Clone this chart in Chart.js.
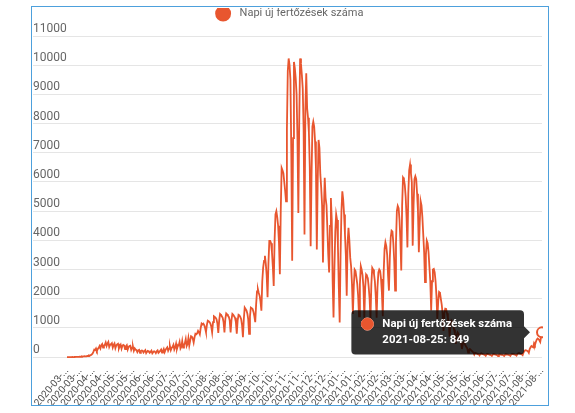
<!DOCTYPE html>
<html lang="hu">
<head>
<meta charset="UTF-8">
<title>Napi új fertőzések száma</title>
<style>
  body { margin: 0; background: #fff; }
  #doboz { position: absolute; left: 31px; top: 6px; width: 516px; height: 398px; border: 1px solid #4da0dc; }
</style>
</head>
<body>
<div id="doboz"><canvas id="grafikon"></canvas></div>
<script src="https://cdn.jsdelivr.net/npm/chart.js@4.4.0/dist/chart.umd.min.js"></script>
<script>
// első nap, innen naponta egy érték
const kezdoNap = '2020-03-03';
const cimkeLepes = 15;
const sorozatNev = 'Napi új fertőzések száma';

const ujFertozesek = [
  0,
  0, 1, 2, 3, 3, 5, 3,
  4, 6, 7, 10, 8, 12, 14,
  19, 11, 25, 18, 30, 35, 28,
  30, 45, 40, 60, 55, 70, 90,
  120, 180, 260, 240, 300, 220, 280,
  320, 380, 300, 410, 450, 330, 400,
  420, 500, 380, 460, 520, 350, 430,
  450, 480, 330, 420, 470, 310, 400,
  440, 460, 300, 380, 430, 290, 390,
  420, 400, 280, 370, 410, 260, 350,
  380, 390, 250, 330, 360, 220, 300,
  260, 240, 170, 230, 250, 150, 210,
  230, 220, 160, 200, 240, 140, 190,
  210, 200, 150, 180, 220, 130, 170,
  200, 190, 140, 200, 230, 150, 180,
  220, 260, 160, 210, 280, 170, 250,
  300, 340, 220, 290, 380, 240, 320,
  350, 420, 260, 330, 460, 280, 380,
  400, 520, 300, 360, 550, 330, 420,
  480, 620, 380, 450, 650, 400, 560,
  720, 700, 640, 500, 680, 800, 780,
  820, 900, 850, 780, 1000, 1150, 1120,
  1150, 1100, 1000, 860, 1100, 1250, 1230,
  1200, 1150, 1050, 850, 1200, 1400, 1380,
  1350, 1300, 1150, 830, 1250, 1480, 1450,
  1400, 1350, 1200, 850, 1300, 1500, 1470,
  1420, 1380, 1250, 850, 1280, 1480, 1450,
  1400, 1350, 1200, 800, 1250, 1450, 1430,
  1380, 1300, 1100, 680, 1300, 1700, 1650,
  1600, 1500, 1300, 800, 1400, 1700, 1680,
  1650, 1550, 1400, 1200, 1800, 2250, 2330,
  2200, 2100, 1900, 1590, 2600, 3070, 3300,
  3470, 3200, 2800, 2050, 3200, 3980, 3980,
  3900, 3600, 3100, 2440, 4000, 4890, 5000,
  4800, 4500, 3900, 2840, 5000, 6480, 6400,
  6300, 6000, 5700, 5340, 7800, 9800, 10230,
  10000, 9500, 7000, 3300, 7500, 10110, 9900,
  9550, 9000, 7500, 4940, 8000, 10230, 10050,
  9660, 9200, 7800, 4200, 8500, 9720, 8520,
  8200, 7700, 6500, 3800, 6200, 7900, 8070,
  7900, 7390, 6500, 3690, 6000, 7440, 7160,
  6250, 5800, 5200, 3240, 5000, 6140, 5450,
  5200, 4400, 3520, 2900, 4500, 5450, 4700,
  2600, 1360, 3000, 4300, 4890, 4700, 3800,
  2400, 1190, 3500, 5000, 5680, 5400, 4890,
  4200, 3500, 2100, 3900, 4430, 4000, 3400,
  3100, 2500, 1480, 2400, 3000, 2950, 2730,
  2500, 2100, 1400, 2500, 3120, 3000, 2800,
  2400, 1350, 2400, 2830, 2780, 2700, 2400,
  2000, 1300, 2500, 3060, 3000, 2850, 2600,
  2100, 1350, 2400, 2900, 3000, 2950, 2680,
  2200, 1400, 2900, 3700, 3930, 3800, 3500,
  2800, 2280, 3400, 4100, 4330, 4300, 3900,
  3300, 2280, 3900, 5000, 5180, 5100, 4700,
  4000, 2970, 5200, 6150, 6100, 5900, 5500,
  4800, 3760, 5600, 6400, 6600, 6300, 6000,
  3820, 5200, 6100, 6200, 6100, 5600, 5000,
  3590, 4600, 5350, 5200, 4800, 4200, 3600,
  2570, 3500, 3990, 3900, 3600, 3100, 2600,
  1600, 2600, 3000, 3020, 2900, 2600, 2100,
  1300, 1900, 2230, 2200, 2000, 1800, 1500,
  900, 1500, 1660, 1650, 1500, 1350, 1150,
  700, 1100, 1250, 1200, 1100, 950, 800,
  450, 750, 850, 800, 700, 600, 500,
  280, 450, 500, 470, 400, 350, 300,
  160, 250, 280, 250, 220, 190, 160,
  90, 150, 140, 120, 110, 100, 60,
  120, 130, 110, 100, 90, 80, 50,
  100, 110, 100, 90, 80, 70, 45,
  90, 100, 95, 85, 80, 70, 40,
  80, 95, 90, 80, 75, 65, 40,
  85, 100, 95, 90, 80, 70, 45,
  95, 110, 105, 100, 90, 80, 55,
  110, 130, 140, 120, 110, 100, 70,
  160, 210, 240, 230, 220, 200, 150,
  280, 340, 380, 360, 340, 480, 420,
  520, 600, 640, 620, 580, 520, 700,
  849
];

// dátum címkék a kezdőnaptól
const napok = [];
const elsoNap = new Date(kezdoNap + 'T00:00:00Z');
for (let i = 0; i < ujFertozesek.length; i++) {
  napok.push(new Date(elsoNap.getTime() + i * 86400000).toISOString().slice(0, 10));
}

const szin = '#e8562f';
Chart.defaults.font.family = 'Roboto';
Chart.defaults.color = '#666';

// egy kis hely a jelmagyarázat alatt
const legendaTer = {
  id: 'legendaTer',
  beforeInit(chart) {
    const eredetiFit = chart.legend.fit;
    chart.legend.fit = function() {
      eredetiFit.call(this);
      this.height += 7;
    };
  }
};

const ctx = document.getElementById('grafikon').getContext('2d');
const grafikon = new Chart(ctx, {
  type: 'line',
  data: {
    labels: napok,
    datasets: [{
      label: sorozatNev,
      data: ujFertozesek,
      borderColor: szin,
      backgroundColor: szin,
      borderWidth: 1.8,
      tension: 0,
      pointRadius: 0,
      pointHoverRadius: 5,
      pointHoverBorderWidth: 2,
      pointHoverBackgroundColor: '#fff',
      pointHoverBorderColor: szin
    }]
  },
  plugins: [legendaTer],
  options: {
    responsive: true,
    maintainAspectRatio: false,
    animation: false,
    events: [],
    layout: { padding: { left: 1, right: 0, top: 1, bottom: 0 } },
    plugins: {
      legend: {
        labels: {
          usePointStyle: true,
          boxHeight: 10,
          padding: 0,
          font: { size: 11 },
          generateLabels: function(chart) {
            return Chart.defaults.plugins.legend.labels.generateLabels(chart).map(function(l) {
              l.text = '  ' + l.text;
              return l;
            });
          }
        }
      },
      tooltip: {
        xAlign: 'right',
        yAlign: 'center',
        usePointStyle: true,
        boxWidth: 12,
        boxHeight: 12,
        boxPadding: 7,
        caretSize: 6,
        caretPadding: 12,
        cornerRadius: 4,
        padding: { left: 10, right: 12, top: 7, bottom: 8 },
        bodyFont: { size: 11.4, weight: 'bold' },
        callbacks: {
          title: function() { return ''; },
          label: function(c) {
            return [c.dataset.label, c.label + ': ' + c.formattedValue];
          }
        }
      }
    },
    scales: {
      x: {
        grid: { display: false },
        border: { display: false },
        afterFit: function(scale) {
          scale.height -= 4;
          scale.paddingRight = 6;
        },
        ticks: {
          autoSkip: false,
          maxRotation: 50,
          minRotation: 50,
          padding: 0,
          color: '#4a4a4a',
          font: { size: 10 },
          callback: function(value, index) {
            return index % cimkeLepes === 0 ? this.getLabelForValue(value).slice(0, 8) + '...' : '';
          }
        }
      },
      y: {
        beginAtZero: true,
        border: { display: false },
        grid: { tickLength: 34 },
        afterFit: function(scale) { scale.width = 34; },
        ticks: {
          stepSize: 1000,
          crossAlign: 'far',
          padding: 0,
          labelOffset: -7,
          font: { size: 12 },
          callback: function(v) { return String(v); }
        }
      }
    }
  }
});

// az utolsó nap kiemelése, ahogy a képen
const utolso = ujFertozesek.length - 1;
grafikon.setActiveElements([{ datasetIndex: 0, index: utolso }]);
grafikon.tooltip.setActiveElements([{ datasetIndex: 0, index: utolso }], { x: 0, y: 0 });
grafikon.update();
</script>
</body>
</html>
